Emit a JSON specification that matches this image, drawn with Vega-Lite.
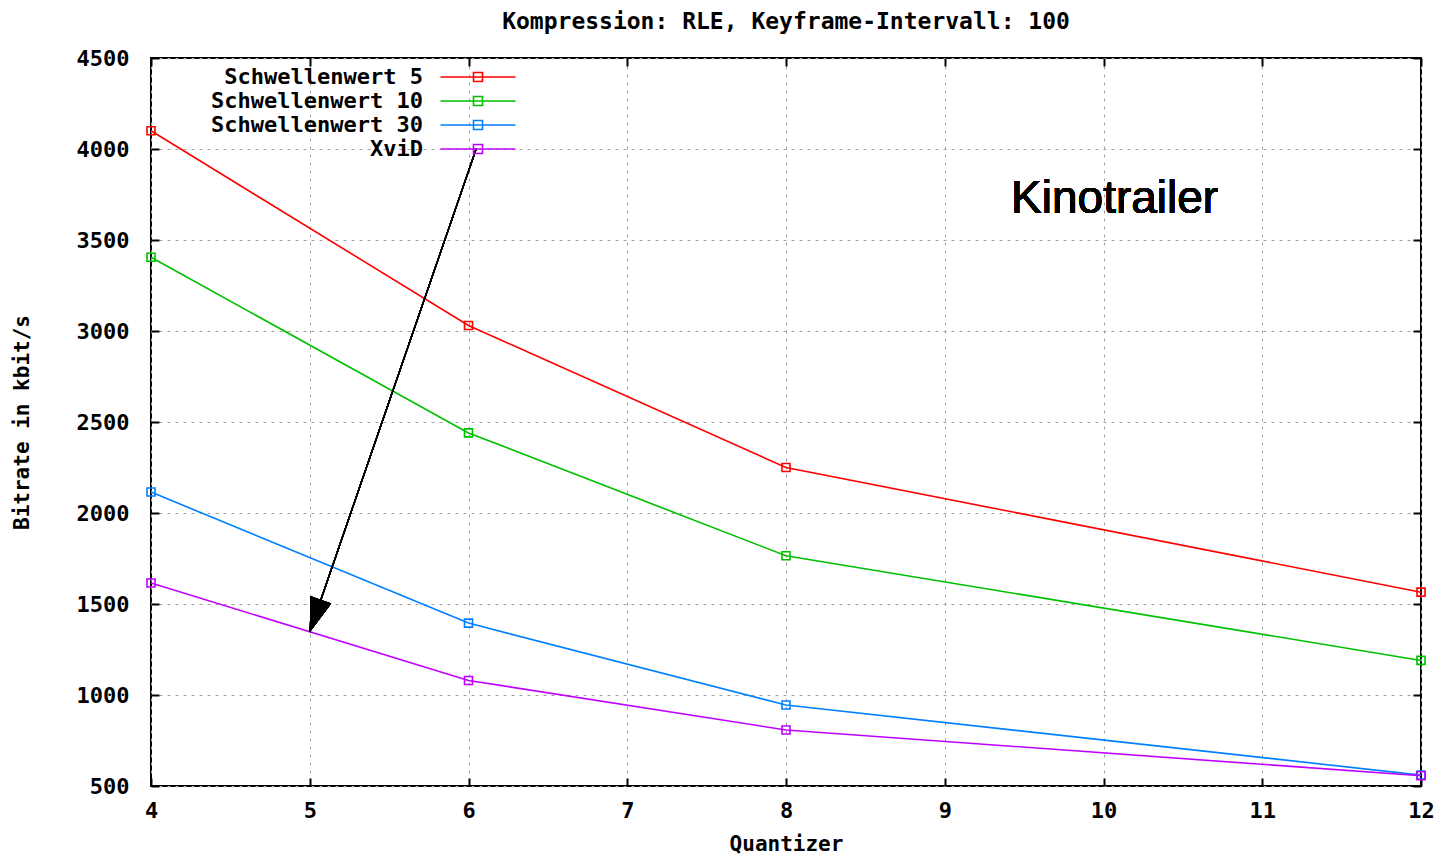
{
  "$schema": "https://vega.github.io/schema/vega-lite/v6.json",
  "width": 1270,
  "height": 728,
  "autosize": {"type": "none"},
  "padding": {"left": 151, "top": 58, "right": 26, "bottom": 68},
  "background": "white",
  "config": {
    "view": {"stroke": "black", "strokeWidth": 2},
    "font": "DejaVu Sans Mono",
    "axis": {
      "labelFont": "DejaVu Sans Mono",
      "labelFontWeight": "bold",
      "labelFontSize": 22,
      "labelColor": "black",
      "titleFont": "DejaVu Sans Mono",
      "titleFontWeight": "bold",
      "titleFontSize": 21,
      "titleColor": "black",
      "domain": false,
      "tickColor": "black",
      "tickWidth": 2,
      "tickSize": -8,
      "gridColor": "#a0a0a0",
      "gridDash": [3, 5],
      "gridWidth": 1,
      "gridOpacity": 1
    }
  },
  "title": {
    "text": "Kompression: RLE, Keyframe-Intervall: 100",
    "font": "DejaVu Sans Mono",
    "fontWeight": "bold",
    "fontSize": 23,
    "color": "black",
    "anchor": "middle",
    "offset": 13
  },
  "data": {
    "values": [
      {"serie": "Schwellenwert 5", "quantizer": 4, "bitrate": 4100},
      {"serie": "Schwellenwert 5", "quantizer": 6, "bitrate": 3030},
      {"serie": "Schwellenwert 5", "quantizer": 8, "bitrate": 2250},
      {"serie": "Schwellenwert 5", "quantizer": 12, "bitrate": 1565},
      {"serie": "Schwellenwert 10", "quantizer": 4, "bitrate": 3405},
      {"serie": "Schwellenwert 10", "quantizer": 6, "bitrate": 2440},
      {"serie": "Schwellenwert 10", "quantizer": 8, "bitrate": 1765},
      {"serie": "Schwellenwert 10", "quantizer": 12, "bitrate": 1190},
      {"serie": "Schwellenwert 30", "quantizer": 4, "bitrate": 2115},
      {"serie": "Schwellenwert 30", "quantizer": 6, "bitrate": 1395},
      {"serie": "Schwellenwert 30", "quantizer": 8, "bitrate": 945},
      {"serie": "Schwellenwert 30", "quantizer": 12, "bitrate": 560},
      {"serie": "XviD", "quantizer": 4, "bitrate": 1615},
      {"serie": "XviD", "quantizer": 6, "bitrate": 1080},
      {"serie": "XviD", "quantizer": 8, "bitrate": 808},
      {"serie": "XviD", "quantizer": 12, "bitrate": 556}
    ]
  },
  "resolve": {"axis": {"x": "independent", "y": "independent"}},
  "layer": [
    {
      "mark": {"type": "line", "strokeWidth": 1.6, "point": {"shape": "square", "filled": false, "size": 64, "strokeWidth": 1.6}},
      "encoding": {
        "x": {
          "field": "quantizer", "type": "quantitative",
          "scale": {"domain": [4, 12], "nice": false, "zero": false},
          "axis": {"orient": "bottom", "values": [4, 5, 6, 7, 8, 9, 10, 11, 12], "format": "d", "grid": true, "title": "Quantizer", "labelPadding": 22, "titlePadding": 12, "labelDx": 5, "labelFlush": false}
        },
        "y": {
          "field": "bitrate", "type": "quantitative",
          "scale": {"domain": [500, 4500], "nice": false, "zero": false},
          "axis": {"orient": "left", "values": [500, 1000, 1500, 2000, 2500, 3000, 3500, 4000, 4500], "format": "d", "grid": true, "title": "Bitrate in kbit/s", "labelPadding": 30, "titlePadding": 44, "labelFlush": false}
        },
        "color": {
          "field": "serie", "type": "nominal",
          "scale": {"domain": ["Schwellenwert 5", "Schwellenwert 10", "Schwellenwert 30", "XviD"], "range": ["#ff0000", "#00c000", "#0080ff", "#c000ff"]},
          "legend": {
            "title": null,
            "orient": "none",
            "legendX": 316,
            "legendY": 8,
            "symbolType": "M-7.5,0L7.5,0M-0.9,-0.9L0.9,-0.9L0.9,0.9L-0.9,0.9Z",
            "symbolSize": 100,
            "symbolStrokeWidth": 1.6,
            "symbolFillColor": "transparent",
            "labelAlign": "right",
            "labelOffset": -66,
            "labelFont": "DejaVu Sans Mono",
            "labelFontWeight": "bold",
            "labelFontSize": 22,
            "labelColor": "black",
            "labelLimit": 500,
            "rowPadding": 2
          }
        }
      }
    },
    {
      "mark": {"type": "rule", "color": "black", "strokeWidth": 1.2},
      "encoding": {
        "x": {"datum": 6.05, "type": "quantitative", "axis": {"orient": "top", "values": [4, 5, 6, 7, 8, 9, 10, 11, 12], "labels": false, "grid": false, "title": null}},
        "y": {"datum": 4005, "type": "quantitative", "axis": {"orient": "right", "values": [500, 1000, 1500, 2000, 2500, 3000, 3500, 4000, 4500], "labels": false, "grid": false, "title": null}},
        "x2": {"datum": 5},
        "y2": {"datum": 1346}
      }
    },
    {
      "mark": {"type": "point", "shape": "M0,0L-0.32,-1L0.32,-1Z", "size": 4624, "angle": 19, "filled": true, "color": "black", "opacity": 1},
      "encoding": {
        "x": {"datum": 5, "type": "quantitative", "axis": null},
        "y": {"datum": 1346, "type": "quantitative", "axis": null}
      }
    },
    {
      "mark": {"type": "text", "text": "Kinotrailer", "font": "Liberation Sans", "fontSize": 46, "color": "black", "align": "center", "baseline": "alphabetic"},
      "encoding": {
        "x": {"datum": 10.07, "type": "quantitative", "axis": null},
        "y": {"datum": 3648, "type": "quantitative", "axis": null}
      }
    }
  ]
}
